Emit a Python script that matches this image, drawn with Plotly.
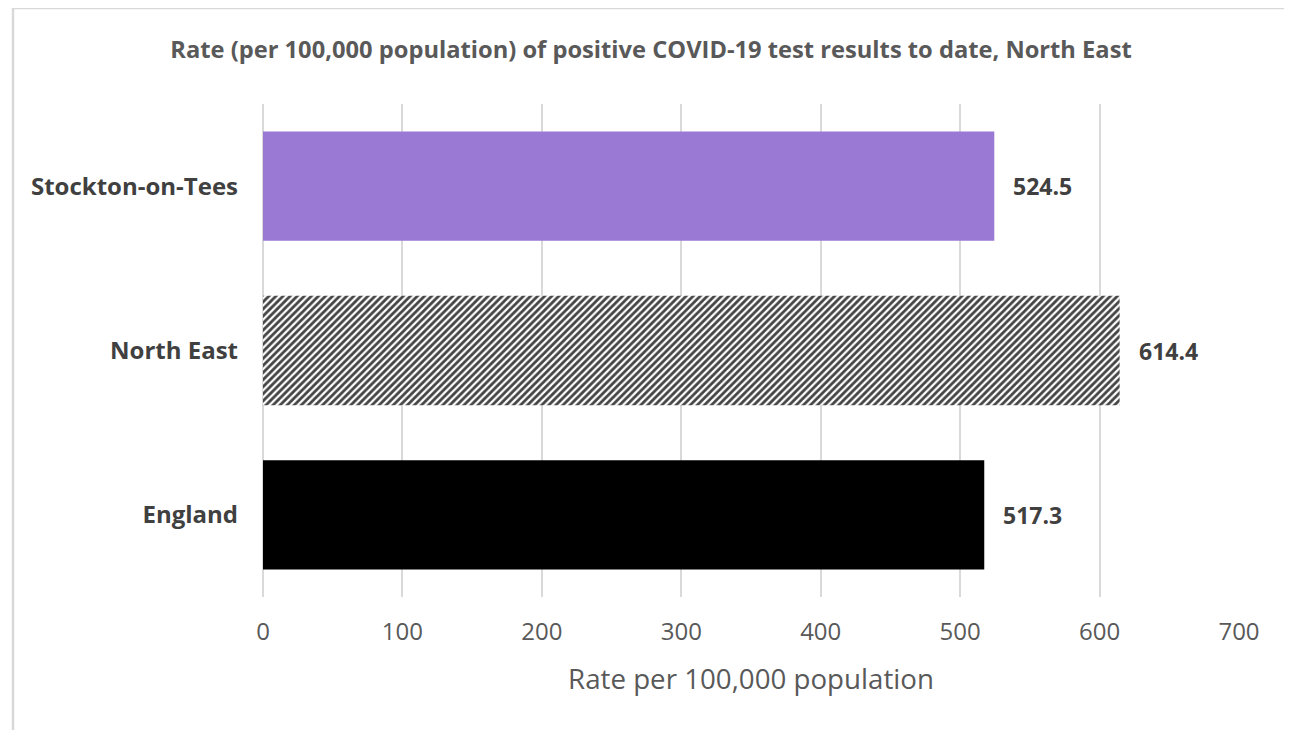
import plotly.graph_objects as go

categories = ["England", "North East", "Stockton-on-Tees"]
values = [517.3, 614.4, 524.5]
labels = ["517.3", "614.4", "524.5"]
tick_vals = [0, 100, 200, 300, 400, 500, 600, 700]

# page has an 8px body margin; figure coordinates are page coordinates minus 8
OFF = 8
W, H = 1292 - OFF, 730 - OFF
L, R, T, B = 263 - OFF, 1239 - OFF, 104 - OFF, 597 - OFF
pw, ph = R - L, B - T

def px(x):
    return (x - L) / pw

def py(y):
    return (B - y) / ph

fig = go.Figure()
fig.add_trace(go.Bar(
    y=categories, x=values, orientation="h",
    marker=dict(
        color=["#000000", "#ffffff", "#9a79d4"],
        line=dict(width=0),
        pattern=dict(shape=["", "/", ""], fgcolor="#000000", bgcolor="#ffffff",
                     fgopacity=1, size=5, solidity=0.55, fillmode="overlay"),
    ),
    width=0.665,
    hoverinfo="skip",
))

for v, c, t in zip(values, categories, labels):
    fig.add_annotation(x=v, y=c, text="<b>" + t + "</b>", showarrow=False,
                       xanchor="left", yanchor="middle", xshift=17,
                       font=dict(family="Open Sans", size=23, color="#404040"))

fig.update_layout(
    width=W, height=H,
    margin=dict(l=L, r=W - R, t=T, b=H - B),
    paper_bgcolor="white", plot_bgcolor="white",
    showlegend=False,
    title=dict(text="<b>Rate (per 100,000 population) of positive COVID-19 test results to date, North East</b>",
               x=(651 - OFF) / W, xanchor="center", y=1 - (50 - OFF) / H, yanchor="middle",
               font=dict(family="Open Sans", size=23.7, color="#595959")),
    xaxis=dict(range=[0, 700], tickvals=tick_vals, showgrid=True, gridcolor="#d9d9d9", gridwidth=2,
               zeroline=True, zerolinecolor="#d9d9d9", zerolinewidth=2, showline=False,
               tickfont=dict(family="Open Sans", size=24, color="#595959"), ticks="",
               ticklabelstandoff=18,
               title=dict(text="Rate per 100,000 population", standoff=23,
                          font=dict(family="Open Sans", size=27.7, color="#595959"))),
    yaxis=dict(showgrid=False, showline=False, ticks="", ticklabelstandoff=24,
               tickfont=dict(family="Open Sans", size=24, color="#404040", weight="bold")),
    bargap=0.335,
)

fig.add_shape(type="line", xref="paper", yref="paper", x0=px(13 - OFF), x1=px(13 - OFF),
              y0=py(-2), y1=py(H + 10), line=dict(color="#d9d9d9", width=2.5))
fig.add_shape(type="line", xref="paper", yref="paper", x0=px(12 - OFF), x1=px(W + 10),
              y0=py(0), y1=py(0), line=dict(color="#d9d9d9", width=2.5))

fig.write_html("out.html")
